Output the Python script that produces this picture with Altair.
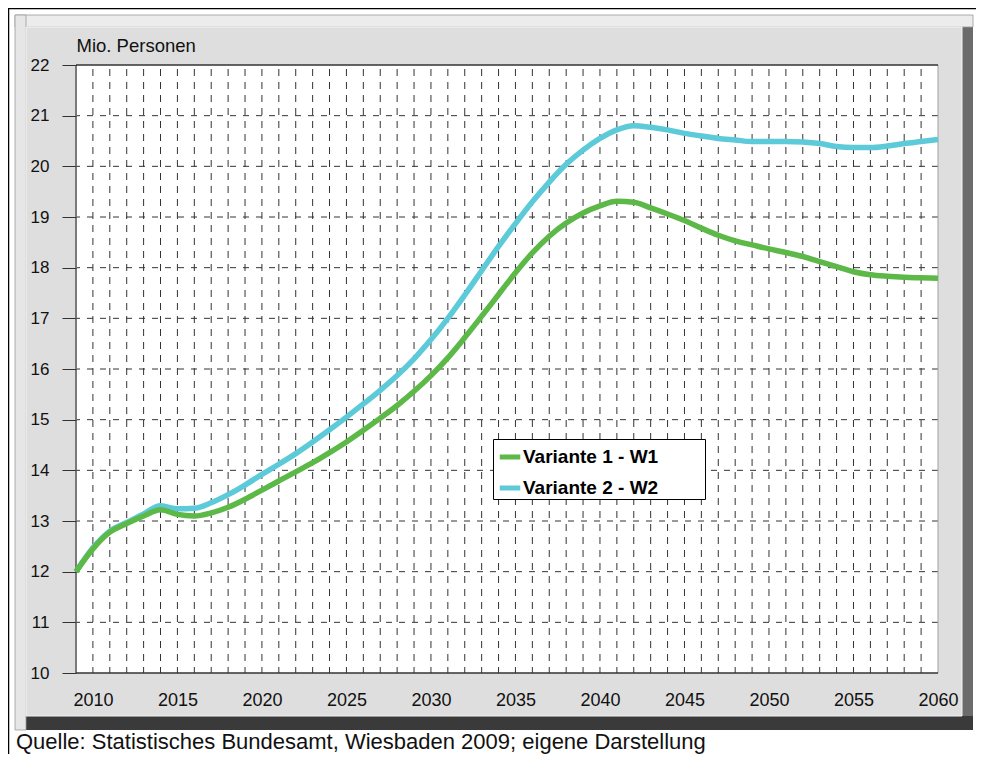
import altair as alt
import pandas as pd

# ---------------- data ----------------
years = list(range(2009, 2061))
variante1 = [12.00, 12.45, 12.78, 12.95, 13.10, 13.22, 13.13, 13.10, 13.16, 13.27,
             13.43, 13.61, 13.79, 13.97, 14.15, 14.35, 14.56, 14.79, 15.03, 15.28,
             15.56, 15.87, 16.22, 16.62, 17.04, 17.47, 17.90, 18.29, 18.62, 18.88,
             19.08, 19.22, 19.31, 19.29, 19.18, 19.06, 18.93, 18.78, 18.64, 18.53,
             18.45, 18.37, 18.30, 18.22, 18.12, 18.02, 17.92, 17.86, 17.83, 17.81,
             17.80, 17.79]
variante2 = [12.00, 12.47, 12.80, 12.97, 13.14, 13.30, 13.24, 13.25, 13.36, 13.52,
             13.71, 13.92, 14.12, 14.33, 14.56, 14.80, 15.05, 15.31, 15.58, 15.87,
             16.20, 16.58, 17.00, 17.46, 17.94, 18.42, 18.87, 19.30, 19.69, 20.04,
             20.32, 20.55, 20.72, 20.80, 20.77, 20.72, 20.65, 20.60, 20.55, 20.52,
             20.49, 20.49, 20.49, 20.48, 20.45, 20.39, 20.37, 20.37, 20.40, 20.45,
             20.49, 20.53]
series_names = ["Variante 1 - W1", "Variante 2 - W2"]
series_colors = ["#5cb947", "#5ccad8"]
x_label_years = [2010, 2015, 2020, 2025, 2030, 2035, 2040, 2045, 2050, 2055, 2060]
y_ticks = list(range(10, 23))
y_title = "Mio. Personen"
caption = "Quelle: Statistisches Bundesamt, Wiesbaden 2009; eigene Darstellung"

# cyan first so that the green line is drawn on top
df = pd.DataFrame({
    "year": years + years,
    "value": variante2 + variante1,
    "series": [series_names[1]] * len(years) + [series_names[0]] * len(years),
})
bounds = pd.DataFrame({"year": [years[0]], "year2": [years[-1]],
                       "value": [y_ticks[0]], "value2": [y_ticks[-1]]})

FONT = "Liberation Sans"
W, H = 862, 608

xs = alt.Scale(domain=[years[0], years[-1]], nice=False, zero=False)
ys = alt.Scale(domain=[y_ticks[0], y_ticks[-1]], nice=False, zero=False)

y_axis = alt.Axis(values=y_ticks, format="d", domain=False, grid=False, ticks=True,
                  tickSize=14, tickColor="#333", tickWidth=1, labelPadding=13,
                  labelFontSize=17, labelColor="#111", labelFont=FONT,
                  labelFlush=False, labelOverlap=False,
                  title=y_title, titleAngle=0, titleAlign="left",
                  titleBaseline="alphabetic", titleX=0, titleY=-14,
                  titleFontSize=18.5, titleFontWeight="normal", titleColor="#111",
                  titleFont=FONT, zindex=1)
x_axis = alt.Axis(values=x_label_years, format="d", domain=False, grid=False,
                  ticks=False, tickSize=0, labelPadding=18, labelFontSize=18,
                  labelColor="#111", labelFont=FONT, labelFlush=False,
                  labelOverlap=False, title=None, zindex=1)


def X(field):
    return alt.X(field, type="quantitative", scale=xs, axis=x_axis)


def Y(field):
    return alt.Y(field, type="quantitative", scale=ys, axis=y_axis)


one = pd.DataFrame({"k": [0]})


def box(x1, x2, y1, y2, fill, **kw):
    return alt.Chart(one).mark_rect(fill=fill, **kw).encode(
        x=alt.value(x1), x2=alt.value(x2), y=alt.value(y1), y2=alt.value(y2))


def hline(x1, x2, y, color, w=1):
    return alt.Chart(one).mark_rule(color=color, strokeWidth=w).encode(
        x=alt.value(x1), x2=alt.value(x2), y=alt.value(y))


def vline(x, y1, y2, color, w=1):
    return alt.Chart(one).mark_rule(color=color, strokeWidth=w).encode(
        x=alt.value(x), y=alt.value(y1), y2=alt.value(y2))


# frame (pixel offsets relative to plot origin)
outer_top = hline(-68, 900, -56.5, "#000", 1.5)
outer_left = vline(-67.5, -57, 690, "#000", 1.5)
bevel_right = box(886, 897, -50, 665, "#6b6b6b")
bevel_bottom = box(-61, 897, 651, 665, "#3a3a3a")
bevel_top = box(-61, 897, -50, -38, "#ececec", stroke="#9a9a9a", strokeWidth=0.8)
bevel_left = box(-61, -50, -50, 665, "#e6e6e6", stroke="#9a9a9a", strokeWidth=0.8)
panel = box(-50, 886, -38, 651, "#dedede", stroke="#f4f4f4", strokeWidth=1)

plot_bg = alt.Chart(bounds).mark_rect(fill="white").encode(
    x=X("year"), x2="year2:Q", y=Y("value"), y2="value2:Q")

vgrid = alt.Chart(pd.DataFrame({"year": years[1:-1]})).mark_rule(
    color="#333", strokeWidth=1, strokeDash=[7, 6], strokeDashOffset=9
).encode(x=X("year"))

hgrid = alt.Chart(pd.DataFrame({"value": y_ticks[1:-1]})).mark_rule(
    color="#333", strokeWidth=1, strokeDash=[6, 7]
).encode(y=Y("value"))

border_left = alt.Chart(bounds).mark_rule(color="#7a7a7a", strokeWidth=2).encode(
    x=X("year"))
border_right = alt.Chart(bounds).mark_rule(color="#a0a0a0", strokeWidth=1).encode(
    x=X("year2"))
border_top = alt.Chart(bounds).mark_rule(color="#333", strokeWidth=1.5).encode(
    y=Y("value2"))
border_bottom = alt.Chart(bounds).mark_rule(color="#333", strokeWidth=1.5).encode(
    y=Y("value"))

legend_box = box(417.5, 629.5, 374.5, 434.5, "white", stroke="black", strokeWidth=1)

color_scale = alt.Scale(domain=series_names, range=series_colors)

legend = alt.Legend(title=None, orient="none", legendX=416, legendY=374,
                    symbolType="stroke", symbolStrokeWidth=5, symbolSize=420,
                    labelFontSize=19, labelFontWeight="bold", labelFont=FONT,
                    labelColor="#000", rowPadding=8, padding=5, labelOffset=0)

lines = alt.Chart(df).mark_line(strokeWidth=5.5, interpolate="monotone").encode(
    x=X("year"), y=Y("value"),
    color=alt.Color("series:N", scale=color_scale, legend=legend, sort=None))

caption_text = alt.Chart(one).mark_text(
    text=caption, align="left", baseline="alphabetic", fontSize=22, font=FONT,
    color="#111").encode(x=alt.value(-60), y=alt.value(683.5))

chart = alt.layer(
    outer_top, outer_left, bevel_right, bevel_bottom, bevel_top, bevel_left, panel,
    plot_bg, vgrid, hgrid, border_left, border_right, border_top, border_bottom,
    legend_box, lines, caption_text
).properties(
    width=W, height=H,
    padding={"left": 68, "top": 57, "right": 38, "bottom": 81},
    autosize=alt.AutoSizeParams(type="none"),
    background="white",
).configure_view(stroke=None)

chart.save("out.html", embed_options={"renderer": "svg", "actions": False})
